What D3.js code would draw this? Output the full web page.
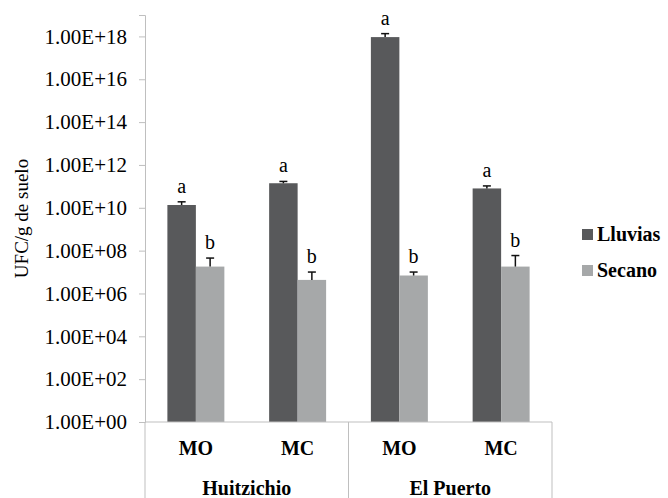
<!DOCTYPE html>
<html>
<head>
<meta charset="utf-8">
<script src="https://cdn.jsdelivr.net/npm/d3@7"></script>
<style>
  body { margin: 0; background: #fff; }
  svg { display: block; }
</style>
</head>
<body>
<div id="chart"></div>
<script>
// data
var sites = ["Huitzichio", "El Puerto"];
var treatments = ["MO", "MC"];
var seriesNames = ["Lluvias", "Secano"];
var lluvias = [1.35e10, 1.4e11, 9.3e17, 8.0e10];
var lluviasErr = [1.9e10, 1.7e11, 1.35e18, 1.05e11];   // top of error bar
var secano = [1.8e7, 4.3e6, 6.9e6, 1.8e7];
var secanoErr = [4.5e7, 1.0e7, 1.0e7, 5.9e7];
var lluviasLetters = ["a", "a", "a", "a"];
var secanoLetters = ["b", "b", "b", "b"];
var yTickExp = [0, 2, 4, 6, 8, 10, 12, 14, 16, 18];

var W = 668, H = 498;
var margin = {top: 15, left: 145, right: 116, bottom: 76};
var plotW = W - margin.left - margin.right,
    plotH = H - margin.top - margin.bottom;
var serif = "Liberation Serif";
var colors = ["#58595b", "#a6a8a9"];
var gridGray = "#bfbfbf";

var svg = d3.select("#chart").append("svg")
  .attr("width", W).attr("height", H);
var g = svg.append("g")
  .attr("transform", "translate(" + margin.left + "," + margin.top + ")");

// categories: site x treatment
var cats = [];
sites.forEach(function(s) { treatments.forEach(function(t) { cats.push(s + "|" + t); }); });

var x0 = d3.scaleBand().domain(cats).range([0, plotW]).paddingInner(0.44).paddingOuter(0.22);
var x1 = d3.scaleBand().domain(seriesNames).range([0, x0.bandwidth()]);
var y = d3.scaleLog().domain([1, 1e19]).range([plotH, 0]);

// y axis
var yAxis = g.append("g")
  .call(d3.axisLeft(y)
    .tickValues(yTickExp.map(function(e) { return Math.pow(10, e); }))
    .tickSize(6).tickPadding(12)
    .tickFormat(function(d) {
      var e = Math.round(Math.log10(d));
      return "1.00E+" + (e < 10 ? "0" + e : e);
    }));
yAxis.attr("font-family", serif);
yAxis.select(".domain").attr("stroke", gridGray);
yAxis.selectAll(".tick line").attr("stroke", gridGray);
yAxis.selectAll("text").attr("font-size", "21px").attr("fill", "#000");

// bars
var data = cats.map(function(c, i) {
  return [
    {cat: c, key: seriesNames[0], v: lluvias[i], err: lluviasErr[i], letter: lluviasLetters[i], col: colors[0]},
    {cat: c, key: seriesNames[1], v: secano[i], err: secanoErr[i], letter: secanoLetters[i], col: colors[1]}
  ];
});

var grp = g.selectAll(".cat").data(data).enter().append("g")
  .attr("transform", function(d, i) { return "translate(" + x0(cats[i]) + ",0)"; });

grp.selectAll("rect").data(function(d) { return d; }).enter().append("rect")
  .attr("x", function(d) { return x1(d.key); })
  .attr("width", x1.bandwidth())
  .attr("y", function(d) { return y(d.v); })
  .attr("height", function(d) { return plotH - y(d.v); })
  .attr("fill", function(d) { return d.col; });

// error bars (upper only)
var eb = grp.selectAll(".err").data(function(d) { return d; }).enter().append("g");
eb.append("line")
  .attr("x1", function(d) { return x1(d.key) + x1.bandwidth() / 2; })
  .attr("x2", function(d) { return x1(d.key) + x1.bandwidth() / 2; })
  .attr("y1", function(d) { return y(d.v); })
  .attr("y2", function(d) { return y(d.err); })
  .attr("stroke", "#111").attr("stroke-width", 1.5);
eb.append("line")
  .attr("x1", function(d) { return x1(d.key) + x1.bandwidth() / 2 - 4; })
  .attr("x2", function(d) { return x1(d.key) + x1.bandwidth() / 2 + 4; })
  .attr("y1", function(d) { return y(d.err); })
  .attr("y2", function(d) { return y(d.err); })
  .attr("stroke", "#111").attr("stroke-width", 1.5);

// significance letters
grp.selectAll(".lbl").data(function(d) { return d; }).enter().append("text")
  .attr("x", function(d) { return x1(d.key) + x1.bandwidth() / 2; })
  .attr("y", function(d) { return y(d.err) - 9; })
  .attr("text-anchor", "middle")
  .attr("font-family", serif).attr("font-size", "20px")
  .text(function(d) { return d.letter; });

// x axis baseline and two-level category dividers
g.append("line")
  .attr("x1", 0).attr("x2", plotW)
  .attr("y1", plotH).attr("y2", plotH)
  .attr("stroke", gridGray);
var siteScale = d3.scaleBand().domain(sites).range([0, plotW]);
var dividers = [0].concat(sites.map(function(s) { return siteScale(s) + siteScale.bandwidth(); }));
g.selectAll(".div").data(dividers).enter().append("line")
  .attr("x1", function(d) { return d; }).attr("x2", function(d) { return d; })
  .attr("y1", plotH).attr("y2", H - margin.top)
  .attr("stroke", gridGray);

g.selectAll(".treat").data(cats).enter().append("text")
  .attr("x", function(d) { return x0(d) + x0.bandwidth() / 2; })
  .attr("y", plotH + 33)
  .attr("text-anchor", "middle")
  .attr("font-family", serif).attr("font-size", "20px").attr("font-weight", "bold")
  .text(function(d) { return d.split("|")[1]; });

g.selectAll(".site").data(sites).enter().append("text")
  .attr("x", function(d) { return siteScale(d) + siteScale.bandwidth() / 2; })
  .attr("y", plotH + 73)
  .attr("text-anchor", "middle")
  .attr("font-family", serif).attr("font-size", "20px").attr("font-weight", "bold")
  .text(function(d) { return d; });

// y axis title
svg.append("text")
  .attr("transform", "translate(28," + (margin.top + plotH / 2) + ") rotate(-90)")
  .attr("text-anchor", "middle")
  .attr("font-family", serif).attr("font-size", "19px")
  .text("UFC/g de suelo");

// legend
var leg = svg.append("g").attr("transform", "translate(582,229)");
var li = leg.selectAll("g").data(seriesNames).enter().append("g")
  .attr("transform", function(d, i) { return "translate(0," + (i * 36) + ")"; });
li.append("rect").attr("width", 11).attr("height", 11)
  .attr("fill", function(d, i) { return colors[i]; });
li.append("text").attr("x", 15).attr("y", 12)
  .attr("font-family", serif).attr("font-size", "20px").attr("font-weight", "bold")
  .text(function(d) { return d; });
</script>
</body>
</html>
